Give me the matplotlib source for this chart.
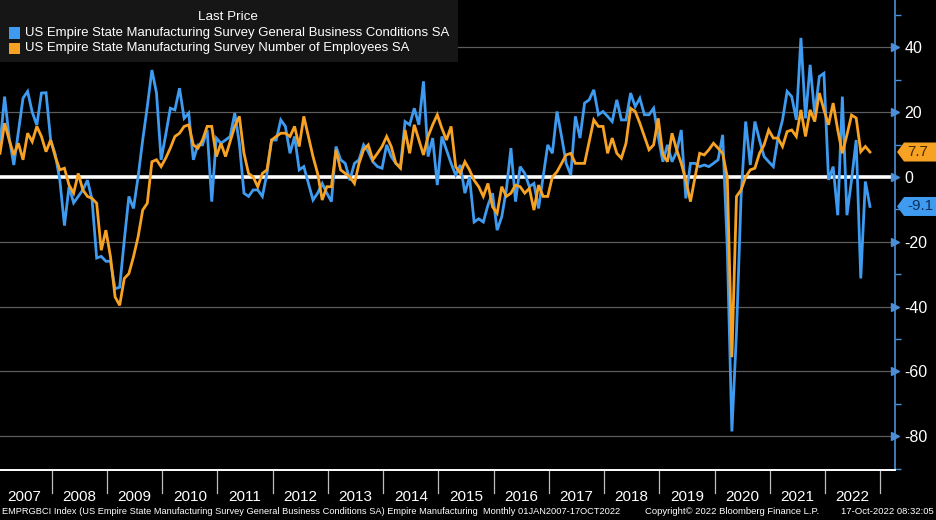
import numpy as np
import matplotlib
matplotlib.use("Agg")
import matplotlib.pyplot as plt
from matplotlib.patches import Polygon, Rectangle
from matplotlib.transforms import blended_transform_factory

# ---------------- data (monthly, Jan 2007 .. Oct 2022) ----------------
years = list(range(2007, 2023))

gbc_2007 = [10, 24.8, 12, 3.7, 14, 24.3, 26.4, 20, 16, 25.9, 26, 11.4]
gbc_2008 = [7, -1, -15, -3, -8, -6, -4, -1, -7, -25, -24.5, -26]
gbc_2009 = [-26, -34.5, -34, -19.5, -6, -9.7, 0, 11.4, 21.7, 33, 25.9, 5.3]
gbc_2010 = [13, 21.2, 20.7, 27.4, 18.1, 19.7, 5.3, 9.9, 9.9, 14.5, -7.6, 12]
gbc_2011 = [10.4, 11.4, 12.5, 19.7, 10.4, -5, -6, -4, -4, -6, 1.1, 11.4]
gbc_2012 = [11.4, 17.6, 15.6, 7.3, 12.5, 2.2, 3.2, -2, -7.1, -5, -2, -5]
gbc_2013 = [-7.6, 9.4, 5.3, 4.2, -1, 4.2, 5.3, 9.9, 7.8, 4.7, 3.2, 2.7]
gbc_2014 = [9.9, 6.3, 4.2, 3.2, 17.1, 16.1, 21.2, 16.1, 29.5, 6.3, 12, -2.5]
gbc_2015 = [12.5, 8.4, 4.2, 0.6, 3.7, -5, 0, -13.9, -12.9, -13.9, -8.7, -5]
gbc_2016 = [-16.4, -12.3, -4, 8.9, -7.6, 3.2, 1.1, -3, -2, -9.7, 0, 9.9]
gbc_2017 = [7.3, 20.2, 12.5, 4.2, 0.6, 18.7, 12, 22.8, 23.8, 26.9, 19.2, 20.2]
gbc_2018 = [18.7, 17.1, 23.8, 17.6, 17.6, 25.9, 21.7, 24.3, 19.2, 19.2, 21.2, 12.5]
gbc_2019 = [4.7, 9.9, 4.7, 7.8, 14.5, -6.6, 4.2, 4.2, 3.2, 3.7, 3.2, 4.2]
gbc_2020 = [5.3, 13, -22, -78.5, -48, -6, 17.1, 3.7, 17.1, 11.4, 6.3, 4.7]
gbc_2021 = [3.2, 12, 17.6, 26.4, 24.8, 17.6, 42.9, 18.1, 34.6, 19.2, 31, 32]
gbc_2022 = [-0.9, 3.2, -11.8, 24.8, -11.8, -0.9, 11.4, -31.3, -1.4, -9.1]

emp_2007 = [7.3, 16.6, 11.4, 6.8, 10.4, 5.3, 13.5, 10.9, 15.6, 12.5, 7.8, 11.4]
emp_2008 = [6.3, 2.2, 2.7, -2.5, -5, 1.1, -4, -6, -6.6, -8.1, -22.6, -16.4]
emp_2009 = [-24.6, -37, -39.6, -31.3, -29.8, -24.6, -18.5, -10.2, -8.1, 4.7, 5.3, 3.2]
emp_2010 = [5.8, 8.9, 12.5, 13.5, 15.6, 16.1, 9.9, 8.9, 11.4, 15.6, 15.6, 6.3]
emp_2011 = [10.4, 6.3, 10.9, 15.6, 18.7, 7.3, 1.1, 0, -3, 1.1, 2.2, 11.4]
emp_2012 = [12.5, 13.5, 13.5, 12.5, 15.6, 9.4, 18.7, 12.5, 6.3, 1.1, -7.1, -3]
emp_2013 = [-3, 8.4, 2.2, 1.1, 0, -2, 4.2, 8.4, 9.9, 5.3, 7.3, 9.4]
emp_2014 = [12.5, 9.4, 4.2, 2.7, 14.5, 7.3, 16.1, 11.4, 6.8, 12.5, 16.1, 19.2]
emp_2015 = [15, 11.4, 15.6, 3.2, 1.1, 4.7, 2.2, -1, -3, -6, -2, -9.2]
emp_2016 = [-11.2, -3, -6, -5, -2.5, -3, -5, -3.5, -10.2, -2.5, -6, -6]
emp_2017 = [0, 1.6, 4.2, 6.8, 7.3, 4.2, 4.2, 4.2, 10.9, 17.6, 15.6, 15.6]
emp_2018 = [7.3, 12, 7.3, 5.8, 10.4, 21.2, 20.2, 16.6, 12.5, 8.4, 9.9, 18.1]
emp_2019 = [7, 4.7, 13.5, 8.4, 4.2, -1, -7.6, 0, 7.3, 6.8, 8.4, 10.4]
emp_2020 = [8.9, 7.3, 0, -55.6, -6, -4, 0, 2.2, 2.7, 7.3, 9.9, 14.5]
emp_2021 = [12, 12, 9.4, 14, 14.5, 12.5, 20.7, 12.5, 20.7, 17.1, 25.9, 20.7]
emp_2022 = [16.1, 22.8, 14.5, 7.3, 13, 19.1, 18.2, 7.8, 9.4, 7.7]

gbc = np.array(gbc_2007 + gbc_2008 + gbc_2009 + gbc_2010 + gbc_2011 + gbc_2012 +
               gbc_2013 + gbc_2014 + gbc_2015 + gbc_2016 + gbc_2017 + gbc_2018 +
               gbc_2019 + gbc_2020 + gbc_2021 + gbc_2022)
emp = np.array(emp_2007 + emp_2008 + emp_2009 + emp_2010 + emp_2011 + emp_2012 +
               emp_2013 + emp_2014 + emp_2015 + emp_2016 + emp_2017 + emp_2018 +
               emp_2019 + emp_2020 + emp_2021 + emp_2022)

y_ticks = [40, 20, 0, -20, -40, -60, -80]
legend_title = "Last Price"
label_gbc = "US Empire State Manufacturing Survey General Business Conditions SA"
label_emp = "US Empire State Manufacturing Survey Number of Employees SA"
footer_left = ("EMPRGBCI Index (US Empire State Manufacturing Survey General Business "
               "Conditions SA) Empire Manufacturing  Monthly 01JAN2007-17OCT2022")
footer_mid = "Copyright\u00a9 2022 Bloomberg Finance L.P."
footer_right = "17-Oct-2022 08:32:05"

# ---------------- style ----------------
BLUE = "#3e9bf0"
ORANGE = "#f7a223"
AXBLUE = "#4a8fd8"
GRID = "#5c5c5c"
FONT = "Liberation Sans"
plt.rcParams["font.family"] = [FONT, "DejaVu Sans"]
plt.rcParams["axes.unicode_minus"] = False

W, H = 936, 520
fig = plt.figure(figsize=(W / 100, H / 100), dpi=100, facecolor="black")
ax_right_px, ax_bottom_px = 895, 470
ax = fig.add_axes([0, 1 - ax_bottom_px / H, ax_right_px / W, ax_bottom_px / H])
ax.set_facecolor("black")

x = np.arange(len(gbc))
ax.set_xlim(0, ax_right_px / 4.603)
ax.set_ylim(-90.4, 54.6)

for t in y_ticks:
    if t != 0:
        ax.axhline(t, color=GRID, lw=0.9, zorder=1)
ax.axhline(0, color="white", lw=2.6, zorder=2)

ax.plot(x, gbc, color=BLUE, lw=2.0, zorder=3, solid_joinstyle="miter")
ax.plot(x, emp, color=ORANGE, lw=2.0, zorder=4, solid_joinstyle="miter")

# spines
for s in ["left", "top"]:
    ax.spines[s].set_visible(False)
ax.spines["bottom"].set_color("white")
ax.spines["bottom"].set_linewidth(1.4)
ax.spines["right"].set_color(AXBLUE)
ax.spines["right"].set_linewidth(1.2)

ax.set_xticks([])
ax.yaxis.tick_right()
ax.set_yticks(y_ticks)
ax.set_yticks(np.arange(-90, 55, 10), minor=True)
ax.tick_params(axis="y", which="major", length=0, pad=7, labelsize=11.5,
               labelcolor="white")
ax.tick_params(axis="y", which="minor", length=4, color=AXBLUE, width=1)

trY = blended_transform_factory(ax.transAxes, ax.transData)
ax.plot([1.0] * len(y_ticks), y_ticks, linestyle="none", marker=">",
        markersize=5.5, color=AXBLUE, transform=trY, clip_on=False, zorder=6)

# year separators and labels
trX = blended_transform_factory(ax.transData, ax.transAxes)
sep_off = 0.76
for k, yr in enumerate(years):
    xs = 12 * (k + 1) - sep_off
    ax.plot([xs, xs], [0, -23 / ax_bottom_px], color="#bdbdbd", lw=0.9,
            transform=trX, clip_on=False)
    ax.text(12 * k + 6 - sep_off, -27 / ax_bottom_px, str(yr), color="white",
            fontsize=11, ha="center", va="center", transform=trX)

# last value tags
def tag(val, color, tcolor, text):
    ypx = ax.transData.transform((0, val))[1]
    x0 = ax_right_px + 2
    x1 = W
    h = 9.5
    pts = [(x0, ypx), (x0 + 7, ypx + h), (x1, ypx + h), (x1, ypx - h), (x0 + 7, ypx - h)]
    fig.patches.append(Polygon(pts, closed=True, transform=None, facecolor=color,
                               edgecolor="none", zorder=10))
    fig.text((x0 + 10) / W, ypx / H, text, color=tcolor, fontsize=11,
             ha="left", va="center", zorder=12)

tag(emp[-1], ORANGE, "#4a2a00", f"{emp[-1]:.1f}")
tag(gbc[-1], BLUE, "#0d2f5c", f"{gbc[-1]:.1f}")

# legend box
fig.patches.append(Rectangle((0, 1 - 62 / H), 458 / W, 62 / H, transform=fig.transFigure,
                             facecolor="#161616", edgecolor="none", zorder=5))
fig.text(228 / W, 1 - 17 / H, legend_title, color="white", fontsize=9.6,
         ha="center", va="center", zorder=6)
for i, (c, lab) in enumerate([(BLUE, label_gbc), (ORANGE, label_emp)]):
    yc = 33 + 15.5 * i
    fig.patches.append(Rectangle((9 / W, 1 - (yc + 5.5) / H), 11 / W, 11 / H,
                                 transform=fig.transFigure, facecolor=c,
                                 edgecolor="none", zorder=6))
    fig.text(25 / W, 1 - yc / H, lab, color="white", fontsize=9.45,
             ha="left", va="center", zorder=6)

# footer
fig.text(2 / W, 1 - 512 / H, footer_left, color="white", fontsize=6.65, ha="left", va="center")
fig.text(645 / W, 1 - 512 / H, footer_mid, color="white", fontsize=6.8, ha="left", va="center")
fig.text(934 / W, 1 - 512 / H, footer_right, color="white", fontsize=6.8, ha="right", va="center")

fig.savefig("out.png", dpi=100, facecolor="black")
